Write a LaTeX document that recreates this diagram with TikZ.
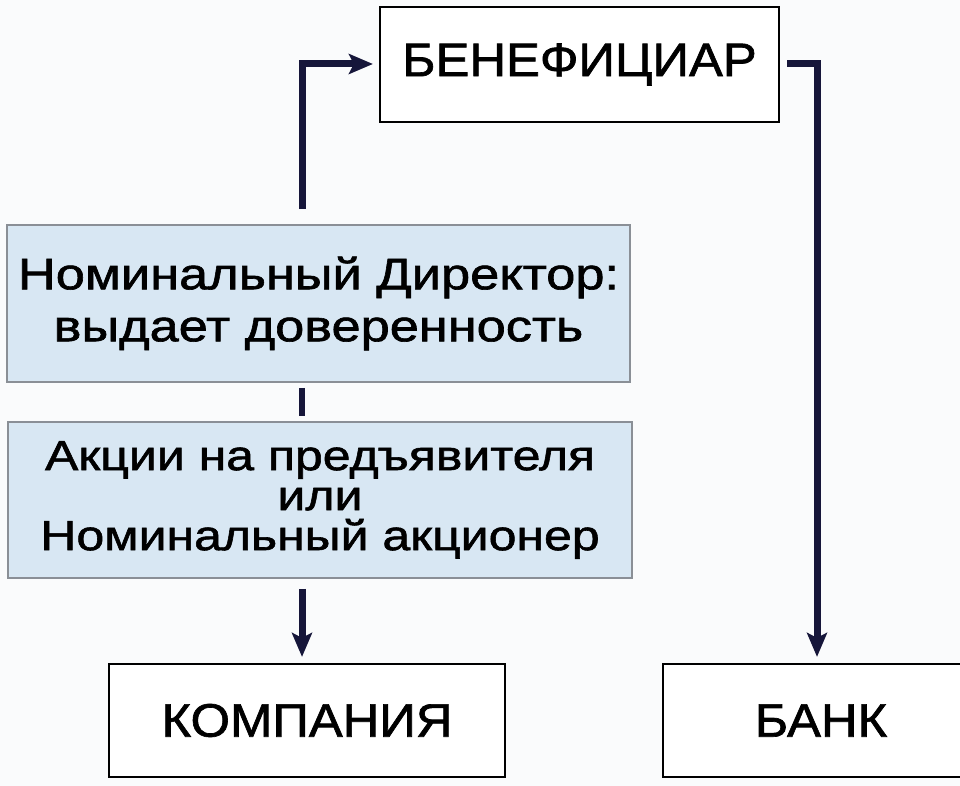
\documentclass[tikz,border=0pt]{standalone}
\usepackage{fontspec}
\setmainfont{Liberation Sans}
\newfontfamily\wideA[FakeStretch=1.08, FakeBold=1.4]{Liberation Sans}
\newfontfamily\wideB[FakeStretch=1.19, FakeBold=1.4]{Liberation Sans}
\usetikzlibrary{arrows.meta}
\definecolor{navy}{HTML}{16163A}
\definecolor{boxfill}{HTML}{D8E7F3}
\definecolor{boxline}{HTML}{8A8F96}
\definecolor{bg}{HTML}{FAFBFC}
\tikzset{
  plainbox/.style={draw=black, line width=2.2pt, fill=white, inner sep=0pt},
  bluebox/.style={draw=boxline, line width=1.6pt, fill=boxfill, inner sep=0pt},
  conn/.style={draw=navy, line width=7pt},
  arr/.style={conn, -{Stealth[length=24pt,width=20pt,inset=5pt]}},
}
\begin{document}
\begin{tikzpicture}[x=1pt,y=-1pt]
\useasboundingbox[fill=bg] (0,0) rectangle (960,786);
\clip (0,0) rectangle (960,786);
\node[plainbox, minimum width=399pt, minimum height=115pt, font=\wideA\fontsize{47}{50}\selectfont] (ben) at (579.5,64.5) {БЕНЕФИЦИАР};
\node[bluebox, minimum width=623pt, minimum height=157pt, align=center, font=\wideB\fontsize{44}{52}\selectfont] (dir) at (318.5,303.5) {Номинальный Директор:\\выдает доверенность};
\node[bluebox, minimum width=624pt, minimum height=156pt, align=center, font=\wideB\fontsize{42}{40}\selectfont] (sh) at (320,500) {Акции на предъявителя\\или\\Номинальный акционер};
\node[plainbox, minimum width=396pt, minimum height=113pt, font=\wideA\fontsize{47}{50}\selectfont] (comp) at (307,720.5) {КОМПАНИЯ};
\node[plainbox, minimum width=316pt, minimum height=113pt, font=\wideA\fontsize{47}{50}\selectfont] (bank) at (821,720.5) {БАНК};
\coordinate (lc) at (302,64);
\coordinate (rc) at (817,64);
\draw[arr] ([yshift=15pt]dir.north -| lc) -- (lc) -- ([xshift=-6pt]ben.west |- lc);
\draw[arr] ([xshift=7pt]ben.east |- rc) -- (rc) -- ([yshift=6pt]bank.north -| rc);
\draw[conn, line width=6pt] ([yshift=-5pt]dir.south -| lc) -- ([yshift=5pt]sh.north -| lc);
\draw[arr] ([yshift=-10pt]sh.south -| lc) -- ([yshift=6pt]comp.north -| lc);
\end{tikzpicture}
\end{document}
